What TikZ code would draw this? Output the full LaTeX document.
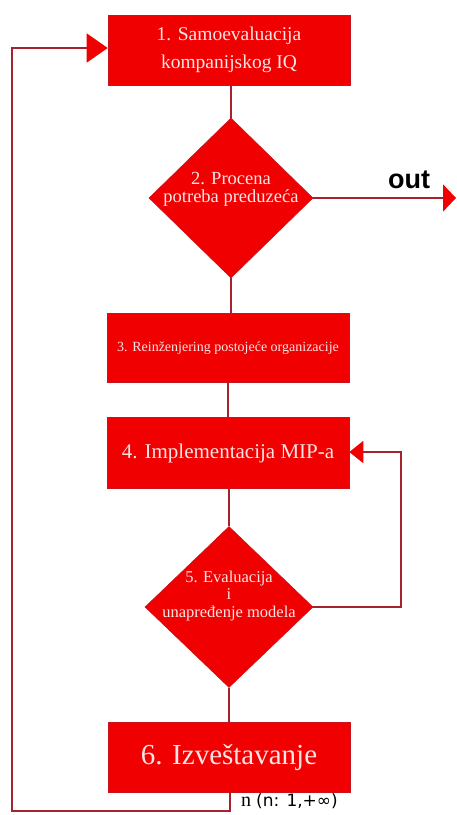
\documentclass[tikz,border=0pt]{standalone}
\usepackage{fontspec}
\setmainfont{Liberation Serif}
\newfontfamily\outfont{Liberation Sans}
\newfontfamily\symfont{DejaVu Sans}
\usetikzlibrary{shapes.geometric,arrows.meta}
\definecolor{boxred}{RGB}{240,0,0}
\definecolor{edgered}{RGB}{200,20,30}
\definecolor{linered}{RGB}{165,35,45}
\definecolor{txt}{RGB}{250,228,228}
\begin{document}
\begin{tikzpicture}[x=1pt,y=-1pt,
  stepbox/.style={rectangle,fill=boxred,draw=edgered,line width=0.6pt,
    minimum width=242pt,inner sep=2pt,text=txt,align=center},
  decbox/.style={diamond,fill=boxred,draw=edgered,line width=0.6pt,
    minimum width=164pt,minimum height=160pt,inner sep=0pt},
  dectext/.style={text=txt,align=center,inner sep=0pt},
  conn/.style={draw=linered,line width=1.6pt},
  bigtip/.style={-{Triangle[length=21pt,width=29pt,color=boxred]}},
  midtip/.style={-{Triangle[length=14pt,width=22pt,color=boxred]}},
  outtip/.style={-{Triangle[length=13pt,width=27pt,color=boxred]}}]
\useasboundingbox (0,0) rectangle (456,815);
\node[stepbox,minimum height=70pt,font=\fontsize{19.5}{28}\selectfont] (s1) at (229,50) {1. Samoevaluacija\\kompanijskog IQ};
\node[decbox] (s2) at (231,198) {};
\node[dectext,font=\fontsize{18.5}{18}\selectfont] (s2t) at (231,189) {2. Procena\\potreba preduzeća};
\node[stepbox,minimum height=69pt,font=\fontsize{14}{16}\selectfont] (s3) at (228,348) {3. Reinženjering postojeće organizacije};
\node[stepbox,minimum height=71pt,font=\fontsize{21}{24}\selectfont] (s4) at (228,453) {4. Implementacija MIP-a};
\node[decbox,minimum height=161pt,minimum width=168pt] (s5) at (229,607) {};
\node[dectext,font=\fontsize{16.5}{17.5}\selectfont] (s5t) at (229,596) {5. Evaluacija\\i\\unapređenje modela};
\node[stepbox,minimum height=70pt,font=\fontsize{29}{32}\selectfont] (s6) at (229,757) {6. Izveštavanje};
\coordinate (outend) at (456,198);
\node[font=\outfont\bfseries\fontsize{27}{30}\selectfont] (outlbl) at (409,180) {out};
\coordinate (l1) at (230,811);
\coordinate (l2) at (12,811);
\coordinate (l3) at (12,48);
\coordinate (m1) at (401,607);
\coordinate (m2) at (401,452);
\node[anchor=west,inner sep=0pt,font=\fontsize{20}{22}\selectfont] (nlbl) at (241,801) {n \symfont\fontsize{17}{19}\selectfont(n: 1,+∞)};
\draw[conn] (s1.south -| s2.north) -- (s2.north);
\draw[conn] (s2.south) -- (s2.south |- s3.north);
\draw[conn] (s3.south) -- (s4.north);
\draw[conn] (s4.south -| s5.north) -- (s5.north);
\draw[conn] (s5.south) -- (s5.south |- s6.north);
\draw[conn,outtip] (s2.east) -- (outend);
\draw[conn,midtip] (s5.east) -- (m1) -- (m2) -- (s4.east |- m2);
\draw[conn,bigtip] (s6.south -| l1) -- (l1) -- (l2) -- (l3) -- (s1.west |- l3);
\end{tikzpicture}
\end{document}
